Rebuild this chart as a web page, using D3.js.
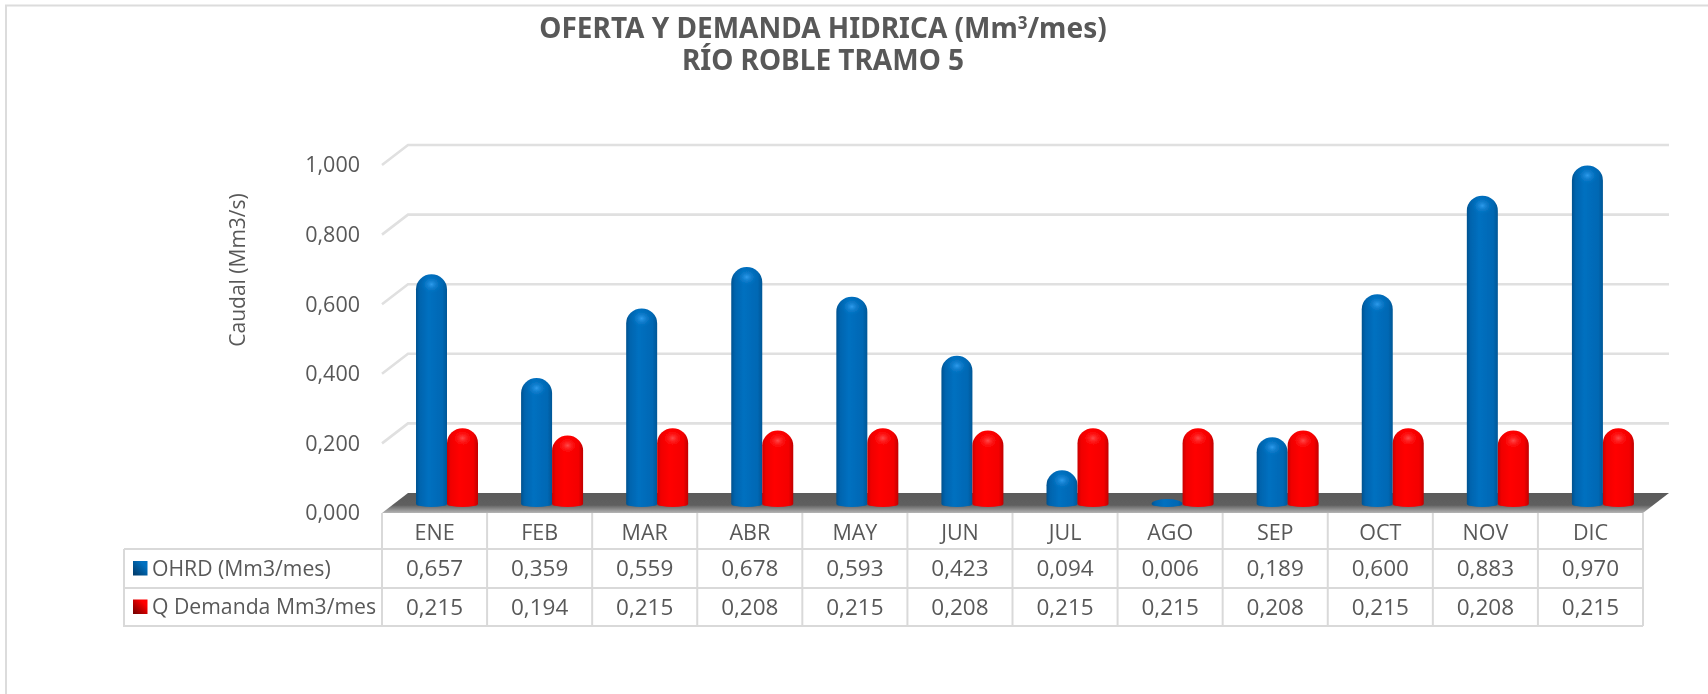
<!DOCTYPE html>
<html>
<head>
<meta charset="utf-8">
<script src="https://cdn.jsdelivr.net/npm/d3@7"></script>
<style>
    html, body { margin: 0; padding: 0; background: #fff; }
    svg { display: block; }
    text { font-family: "Open Sans", sans-serif; fill: #595959; }
</style>
</head>
<body>
<div id="chart"></div>
<script>
(function(){
    var meses = ["ENE","FEB","MAR","ABR","MAY","JUN","JUL","AGO","SEP","OCT","NOV","DIC"];
    var ohrd = [0.657,0.359,0.559,0.678,0.593,0.423,0.094,0.006,0.189,0.600,0.883,0.970];
    var demanda = [0.215,0.194,0.215,0.208,0.215,0.208,0.215,0.215,0.208,0.215,0.208,0.215];
    var serieNombres = ["OHRD (Mm3/mes)","Q Demanda Mm3/mes"];
    var yTicks = [0,0.2,0.4,0.6,0.8,1];

    var width = 1708,
        height = 694;

    var svg = d3.select("#chart")
        .append("svg")
        .attr("width", width)
        .attr("height", height);

    var defs = svg.append("defs");

    function barGradient(id, stops) {
        defs.append("linearGradient")
            .attr("id", id)
            .selectAll("stop")
            .data(stops)
            .enter().append("stop")
            .attr("offset", function(d){ return d[0]; })
            .attr("stop-color", function(d){ return d[1]; });
    }
    barGradient("grad-0", [[0,"#00528f"],[0.12,"#0064ae"],[0.4,"#0070c0"],[0.85,"#0068b4"],[1,"#005796"]]);
    barGradient("grad-1", [[0,"#c80000"],[0.12,"#f00000"],[0.4,"#ff0000"],[0.85,"#f40000"],[1,"#c00000"]]);

    function capGradient(id, c0, c1) {
        var g = defs.append("radialGradient").attr("id", id);
        g.append("stop").attr("offset", 0).attr("stop-color", c0).attr("stop-opacity", 1);
        g.append("stop").attr("offset", 1).attr("stop-color", c1).attr("stop-opacity", 0);
    }
    capGradient("cap-0", "#2f9bec", "#0070c0");
    capGradient("cap-1", "#ff4a4a", "#ff0000");

    var floorGrad = defs.append("linearGradient")
        .attr("id", "floor")
        .attr("x1", 0).attr("x2", 0).attr("y1", 0).attr("y2", 1);
    floorGrad.append("stop").attr("offset", 0).attr("stop-color", "#5a5a5a");
    floorGrad.append("stop").attr("offset", 0.6).attr("stop-color", "#5f5f5f");
    floorGrad.append("stop").attr("offset", 1).attr("stop-color", "#b5b5b5");

    function keyGradient(id, c0, c1) {
        var g = defs.append("linearGradient")
            .attr("id", id)
            .attr("x1", 0).attr("x2", 1).attr("y1", 1).attr("y2", 0);
        g.append("stop").attr("offset", 0.1).attr("stop-color", c1);
        g.append("stop").attr("offset", 0.75).attr("stop-color", c0);
    }
    keyGradient("key-0", "#0070c0", "#003e70");
    keyGradient("key-1", "#ff0000", "#7e0000");

    defs.append("filter")
        .attr("id", "soft")
        .append("feGaussianBlur")
        .attr("stdDeviation", 0.6);

    defs.append("filter")
        .attr("id", "soft-text")
        .append("feGaussianBlur")
        .attr("stdDeviation", 0.35);

    // frame of the chart area
    svg.append("path")
        .attr("d", "M1708,5.5H6V694")
        .attr("fill", "none")
        .attr("stroke", "#dcdcdc")
        .attr("stroke-width", 2);

    var x = d3.scaleBand().domain(meses).range([382, 1643]);
    var y = d3.scaleLinear().domain([0, 1]).range([513, 165]);

    // depth of the 3d box
    var depthX = 26,
        depthY = -20;

    var serie = d3.scaleBand()
        .domain([0, 1])
        .range([0, 62]);

    var barOffset = 34;

    var coma = d3.formatLocale({decimal: ",", thousands: ".", grouping: [3], currency: ["", ""]});
    var fmt = coma.format(".3f");

    // back wall
    var grid = svg.append("g").attr("filter", "url(#soft)");
    grid.selectAll(".grid")
        .data(yTicks.slice(1))
        .enter().append("path")
        .attr("class", "grid")
        .attr("d", function(d){
            return "M" + x.range()[0] + "," + y(d) +
                "L" + (x.range()[0] + depthX) + "," + (y(d) + depthY) +
                "H" + (x.range()[1] + depthX);
        })
        .attr("fill", "none")
        .attr("stroke", "#e0e0e0")
        .attr("stroke-width", 2.6);

    // floor
    svg.append("path")
        .attr("d", "M" + x.range()[0] + "," + y(0) +
            "L" + (x.range()[0] + depthX) + "," + (y(0) + depthY) +
            "H" + (x.range()[1] + depthX) +
            "L" + x.range()[1] + "," + y(0) + "Z")
        .attr("fill", "url(#floor)")
        .attr("filter", "url(#soft)");

    // bars
    function barPath(d) {
        var x0 = x(d.mes) + barOffset + serie(d.s),
            w = serie.bandwidth(),
            r = w / 2,
            bottom = y(0) - 9,
            top = Math.min(y(d.v) - 10, bottom - 5),
            ry = Math.min(15, bottom - top);
        return "M" + x0 + "," + bottom +
            "V" + (top + ry) +
            "A" + r + "," + ry + " 0 0 1 " + (x0 + w) + "," + (top + ry) +
            "V" + bottom +
            "A" + r + ",3 0 0 1 " + x0 + "," + bottom + "Z";
    }

    var datos = [];
    meses.forEach(function(m, i){
        datos.push({mes: m, s: 0, v: ohrd[i]});
        datos.push({mes: m, s: 1, v: demanda[i]});
    });

    var bars = svg.append("g").attr("filter", "url(#soft)");

    var barra = bars.selectAll(".barra")
        .data(datos)
        .enter().append("g")
        .attr("class", "barra");

    barra.append("path")
        .attr("d", barPath)
        .attr("fill", function(d){ return "url(#grad-" + d.s + ")"; });

    barra.filter(function(d){ return d.v > 0.05; })
        .append("ellipse")
        .attr("cx", function(d){ return x(d.mes) + barOffset + serie(d.s) + serie.bandwidth() / 2; })
        .attr("cy", function(d){ return y(d.v); })
        .attr("rx", 11)
        .attr("ry", 9)
        .attr("fill", function(d){ return "url(#cap-" + d.s + ")"; });

    // everything written goes in here
    var textos = svg.append("g").attr("filter", "url(#soft-text)");

    // y axis
    var yAxis = d3.axisLeft(y)
        .tickValues(yTicks)
        .tickSize(0)
        .tickPadding(0)
        .tickFormat(fmt);

    var yG = textos.append("g")
        .attr("transform", "translate(360,0)")
        .call(yAxis);
    yG.select(".domain").remove();
    yG.selectAll("text")
        .style("font-size", "21.5px")
        .style("font-family", "'Open Sans', sans-serif")
        .style("fill", "#595959");

    textos.append("text")
        .attr("transform", "translate(245,270) rotate(-90)")
        .attr("text-anchor", "middle")
        .style("font-size", "21px")
        .text("Caudal (Mm3/s)");

    // title
    var title = textos.append("text")
        .attr("text-anchor", "middle")
        .style("font-family", "'Noto Sans', sans-serif")
        .style("font-weight", "bold")
        .style("font-size", "28px");
    title.append("tspan").attr("x", 823).attr("y", 38).text("OFERTA Y DEMANDA HIDRICA (Mm");
    title.append("tspan").attr("dy", -9).style("font-size", "17px").text("3");
    title.append("tspan").attr("dy", 9).text("/mes)");
    textos.append("text")
        .attr("x", 823).attr("y", 70)
        .attr("text-anchor", "middle")
        .style("font-family", "'Noto Sans', sans-serif")
        .style("font-weight", "bold")
        .style("font-size", "28px")
        .text("RÍO ROBLE TRAMO 5");

    // data table
    var tableLeft = 124,
        rowY = d3.scaleOrdinal().domain(["top", "mes", 0, 1]).range([513, 549, 588, 626]);

    var table = svg.append("g")
        .attr("fill", "none")
        .attr("stroke", "#d9d9d9")
        .attr("stroke-width", 2)
        .attr("filter", "url(#soft)");

    table.selectAll(".vline")
        .data(d3.range(meses.length + 1))
        .enter().append("line")
        .attr("class", "vline")
        .attr("x1", function(i){ return x.range()[0] + i * x.step(); })
        .attr("x2", function(i){ return x.range()[0] + i * x.step(); })
        .attr("y1", rowY("top"))
        .attr("y2", rowY(1));

    table.append("path")
        .attr("d", "M" + tableLeft + "," + rowY("mes") + "V" + rowY(1) + "H" + x.range()[0]);

    table.selectAll(".hline")
        .data(["mes", 0, 1])
        .enter().append("line")
        .attr("class", "hline")
        .attr("x1", tableLeft)
        .attr("x2", x.range()[1])
        .attr("y1", function(d){ return rowY(d); })
        .attr("y2", function(d){ return rowY(d); });

    var xAxis = d3.axisBottom(x).tickSize(0).tickPadding(0);
    var xG = textos.append("g")
        .attr("transform", "translate(0,525)")
        .call(xAxis);
    xG.select(".domain").remove();
    xG.selectAll("text")
        .style("font-size", "21.5px")
        .style("font-family", "'Open Sans', sans-serif")
        .style("fill", "#595959");

    var filas = [ohrd, demanda];

    filas.forEach(function(valores, s){
        var cy = (rowY(s) + (s === 0 ? rowY("mes") : rowY(0))) / 2;

        svg.append("rect")
            .attr("x", 133).attr("y", cy - 7.5)
            .attr("width", 14.5).attr("height", 14.5)
            .attr("fill", "url(#key-" + s + ")");

        textos.append("text")
            .attr("x", 152).attr("y", cy)
            .attr("dy", "0.35em")
            .style("font-size", "21.2px")
            .text(serieNombres[s]);

        textos.selectAll(".celda-" + s)
            .data(valores)
            .enter().append("text")
            .attr("class", "celda-" + s)
            .attr("x", function(d, i){ return x(meses[i]) + x.bandwidth() / 2; })
            .attr("y", cy)
            .attr("dy", "0.35em")
            .attr("text-anchor", "middle")
            .style("font-size", "22.5px")
            .text(function(d){ return fmt(d); });
    });
})();
</script>
</body>
</html>
